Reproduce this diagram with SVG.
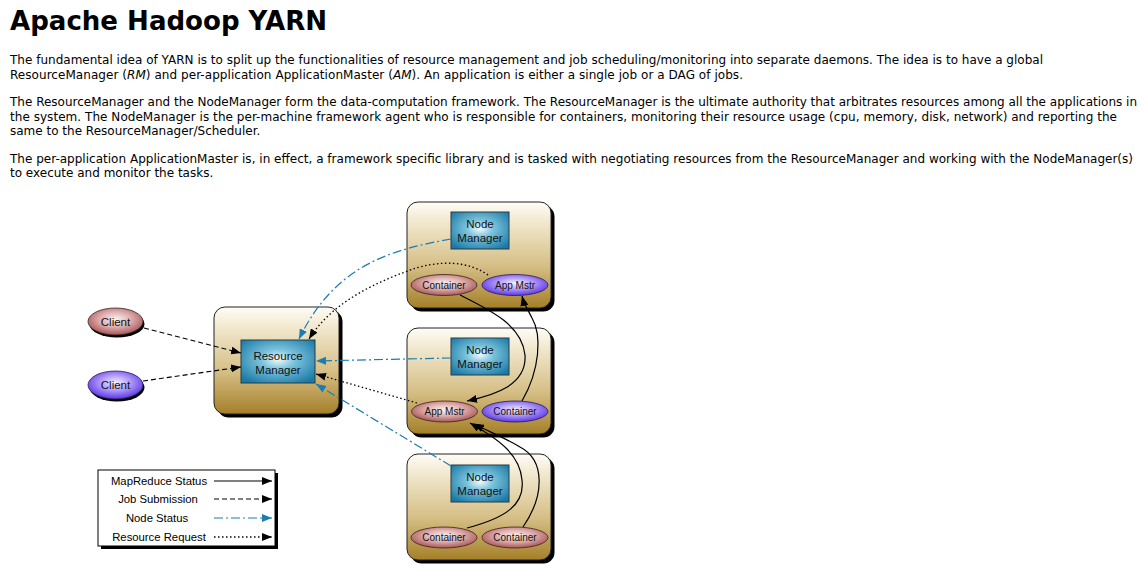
<svg xmlns="http://www.w3.org/2000/svg" width="1148" height="577" viewBox="0 0 1148 577">
<defs>
<style>
.h1{font-family:"DejaVu Sans",Verdana,sans-serif;font-weight:bold;font-size:26px;fill:#000}
.p{font-family:"DejaVu Sans",Verdana,sans-serif;font-size:12px;fill:#000}
.lbl{font-family:"Liberation Sans",Arial,sans-serif;font-size:11.5px;fill:#111;text-anchor:middle}
.sm{font-family:"Liberation Sans",Arial,sans-serif;font-size:10px;fill:#111;text-anchor:middle}
.leg{font-family:"Liberation Sans",Arial,sans-serif;font-size:11.3px;fill:#000;text-anchor:middle}
.box{fill:url(#boxg);stroke:#222;stroke-width:1}
.shadow{fill:#000}
.nm{fill:url(#teal);stroke:#2b3b42;stroke-width:1}
.red{fill:url(#redg);stroke:#3a2424;stroke-width:0.8}
.pur{fill:url(#purg);stroke:#2a1a50;stroke-width:0.8}
.solid{fill:none;stroke:#000;stroke-width:1.2;marker-end:url(#ab)}
.dash{fill:none;stroke:#000;stroke-width:1.2;stroke-dasharray:5 3;marker-end:url(#ab)}
.dot{fill:none;stroke:#000;stroke-width:1.3;stroke-dasharray:1.5 2.5;marker-end:url(#ab)}
.ns{fill:none;stroke:#1b7db3;stroke-width:1.2;stroke-dasharray:9 3 2 3;marker-end:url(#abb)}
</style>
<linearGradient id="boxg" x1="0" y1="0" x2="0" y2="1">
<stop offset="0" stop-color="#fefcf7"/>
<stop offset="0.18" stop-color="#f2e9d0"/>
<stop offset="0.6" stop-color="#d6bf86"/>
<stop offset="1" stop-color="#a47f28"/>
</linearGradient>
<radialGradient id="teal" cx="0.5" cy="0.45" r="0.65">
<stop offset="0" stop-color="#f2fbfd"/>
<stop offset="0.35" stop-color="#7cc3dc"/>
<stop offset="1" stop-color="#1a7aa6"/>
</radialGradient>
<radialGradient id="redg" cx="0.5" cy="0.42" r="0.6">
<stop offset="0" stop-color="#fcf4f4"/>
<stop offset="0.5" stop-color="#dcaaaa"/>
<stop offset="1" stop-color="#a35050"/>
</radialGradient>
<radialGradient id="purg" cx="0.5" cy="0.42" r="0.6">
<stop offset="0" stop-color="#f5f2ff"/>
<stop offset="0.5" stop-color="#a991f7"/>
<stop offset="1" stop-color="#5630e6"/>
</radialGradient>
<marker id="ab" viewBox="0 0 10 8" refX="10" refY="4" markerWidth="10" markerHeight="8" orient="auto" markerUnits="userSpaceOnUse">
<path d="M0,0 L10,4 L0,8 z" fill="#000"/>
</marker>
<marker id="abb" viewBox="0 0 10 8" refX="10" refY="4" markerWidth="10" markerHeight="8" orient="auto" markerUnits="userSpaceOnUse">
<path d="M0,0 L10,4 L0,8 z" fill="#1b7db3"/>
</marker>
</defs>
<rect width="1148" height="577" fill="#fff"/>

<g id="header">
<text class="h1" x="10" y="30" textLength="317" lengthAdjust="spacingAndGlyphs">Apache Hadoop YARN</text>
<text class="p" x="10" y="64" textLength="1033">The fundamental idea of YARN is to split up the functionalities of resource management and job scheduling/monitoring into separate daemons. The idea is to have a global</text>
<text class="p" x="10" y="78.5" textLength="733">ResourceManager (<tspan font-style="italic">RM</tspan>) and per-application ApplicationMaster (<tspan font-style="italic">AM</tspan>). An application is either a single job or a DAG of jobs.</text>
<text class="p" x="10" y="106" textLength="1127">The ResourceManager and the NodeManager form the data-computation framework. The ResourceManager is the ultimate authority that arbitrates resources among all the applications in</text>
<text class="p" x="10" y="120.5" textLength="1107">the system. The NodeManager is the per-machine framework agent who is responsible for containers, monitoring their resource usage (cpu, memory, disk, network) and reporting the</text>
<text class="p" x="10" y="135">same to the ResourceManager/Scheduler.</text>
<text class="p" x="10" y="162.5" textLength="1123">The per-application ApplicationMaster is, in effect, a framework specific library and is tasked with negotiating resources from the ResourceManager and working with the NodeManager(s)</text>
<text class="p" x="10" y="177">to execute and monitor the tasks.</text>
</g>

<g id="client1">
<ellipse class="shadow" cx="117" cy="324" rx="27.5" ry="13.5"/>
<ellipse class="red" cx="115.5" cy="321.5" rx="27.5" ry="13.5"/>
<text class="lbl" x="115.5" y="325.5">Client</text>
</g>
<g id="client2">
<ellipse class="shadow" cx="117" cy="387.5" rx="27.5" ry="14"/>
<ellipse class="pur" cx="115.5" cy="385" rx="27.5" ry="14"/>
<text class="lbl" x="115.5" y="389">Client</text>
</g>

<g id="rm-host">
<rect class="shadow" x="217.5" y="310.5" width="125" height="107" rx="11"/>
<rect class="box" x="214" y="307" width="125" height="107" rx="11"/>
<g id="resource-manager">
<rect class="nm" x="241" y="340" width="74" height="43"/>
<text class="lbl" x="278" y="360">Resource</text>
<text class="lbl" x="278" y="374">Manager</text>
</g>
</g>

<g id="node1">
<rect class="shadow" x="410.5" y="205.5" width="144" height="106" rx="11"/>
<rect class="box" x="407" y="202" width="144" height="106" rx="11"/>
<g id="nm1">
<rect class="nm" x="451" y="212" width="58" height="37"/>
<text class="lbl" x="480" y="227.5">Node</text>
<text class="lbl" x="480" y="242">Manager</text>
</g>
<g id="container1a">
<ellipse class="red" cx="444" cy="285" rx="33" ry="10.5"/>
<text class="sm" x="444" y="288.5">Container</text>
</g>
<g id="appmstr1">
<ellipse class="pur" cx="515" cy="285" rx="33" ry="10.5"/>
<text class="sm" x="515" y="288.5">App Mstr</text>
</g>
</g>

<g id="node2">
<rect class="shadow" x="410.5" y="331.5" width="144" height="106" rx="11"/>
<rect class="box" x="407" y="328" width="144" height="106" rx="11"/>
<g id="nm2">
<rect class="nm" x="451" y="338" width="58" height="37"/>
<text class="lbl" x="480" y="353.5">Node</text>
<text class="lbl" x="480" y="368">Manager</text>
</g>
<g id="appmstr2">
<ellipse class="red" cx="444.5" cy="411.5" rx="33" ry="10.5"/>
<text class="sm" x="444.5" y="415">App Mstr</text>
</g>
<g id="container2b">
<ellipse class="pur" cx="515" cy="411.5" rx="33" ry="10.5"/>
<text class="sm" x="515" y="415">Container</text>
</g>
</g>

<g id="node3">
<rect class="shadow" x="410.5" y="457.5" width="144" height="106" rx="11"/>
<rect class="box" x="407" y="454" width="144" height="106" rx="11"/>
<g id="nm3">
<rect class="nm" x="451" y="465" width="58" height="37"/>
<text class="lbl" x="480" y="480.5">Node</text>
<text class="lbl" x="480" y="495">Manager</text>
</g>
<g id="container3a">
<ellipse class="red" cx="444" cy="537.5" rx="33" ry="10.5"/>
<text class="sm" x="444" y="541">Container</text>
</g>
<g id="container3b">
<ellipse class="red" cx="515" cy="537.5" rx="33" ry="10.5"/>
<text class="sm" x="515" y="541">Container</text>
</g>
</g>

<g id="connectors">
<path class="dash" d="M144,328 L241,353"/>
<path class="dash" d="M143,381 L241,367"/>
<path class="ns" d="M451,239 C390,250 335,265 299,339"/>
<path class="dot" d="M488,275 C470,262 440,258 405,272 C370,285 330,305 309,339"/>
<path class="ns" d="M451,358 L316,361"/>
<path class="dot" d="M417,403 L316,374"/>
<path class="ns" d="M451,466 L316,384"/>
<path class="solid" d="M460,295 C490,310 522,325 525,355 C527,385 495,395 467,401"/>
<path class="solid" d="M522,401 C540,370 542,335 532,318 C528,310 524,304 522,296"/>
<path class="solid" d="M467,528 C505,518 525,505 522,480 C520,455 500,440 470,423"/>
<path class="solid" d="M523,527 C545,495 545,460 520,447 C505,438 490,432 474,424"/>
</g>

<g id="legend">
<rect class="shadow" x="101" y="473" width="177" height="76"/>
<rect x="98" y="470" width="177" height="76" fill="#fff" stroke="#000" stroke-width="1"/>
<text class="leg" x="159" y="485">MapReduce Status</text>
<text class="leg" x="158" y="503">Job Submission</text>
<text class="leg" x="157" y="522">Node Status</text>
<text class="leg" x="159" y="541">Resource Request</text>
<path class="solid" d="M214,481 L272,481"/>
<path class="dash" d="M214,499 L272,499"/>
<path class="ns" d="M214,518 L272,518"/>
<path class="dot" d="M214,537 L272,537"/>
</g>
</svg>
